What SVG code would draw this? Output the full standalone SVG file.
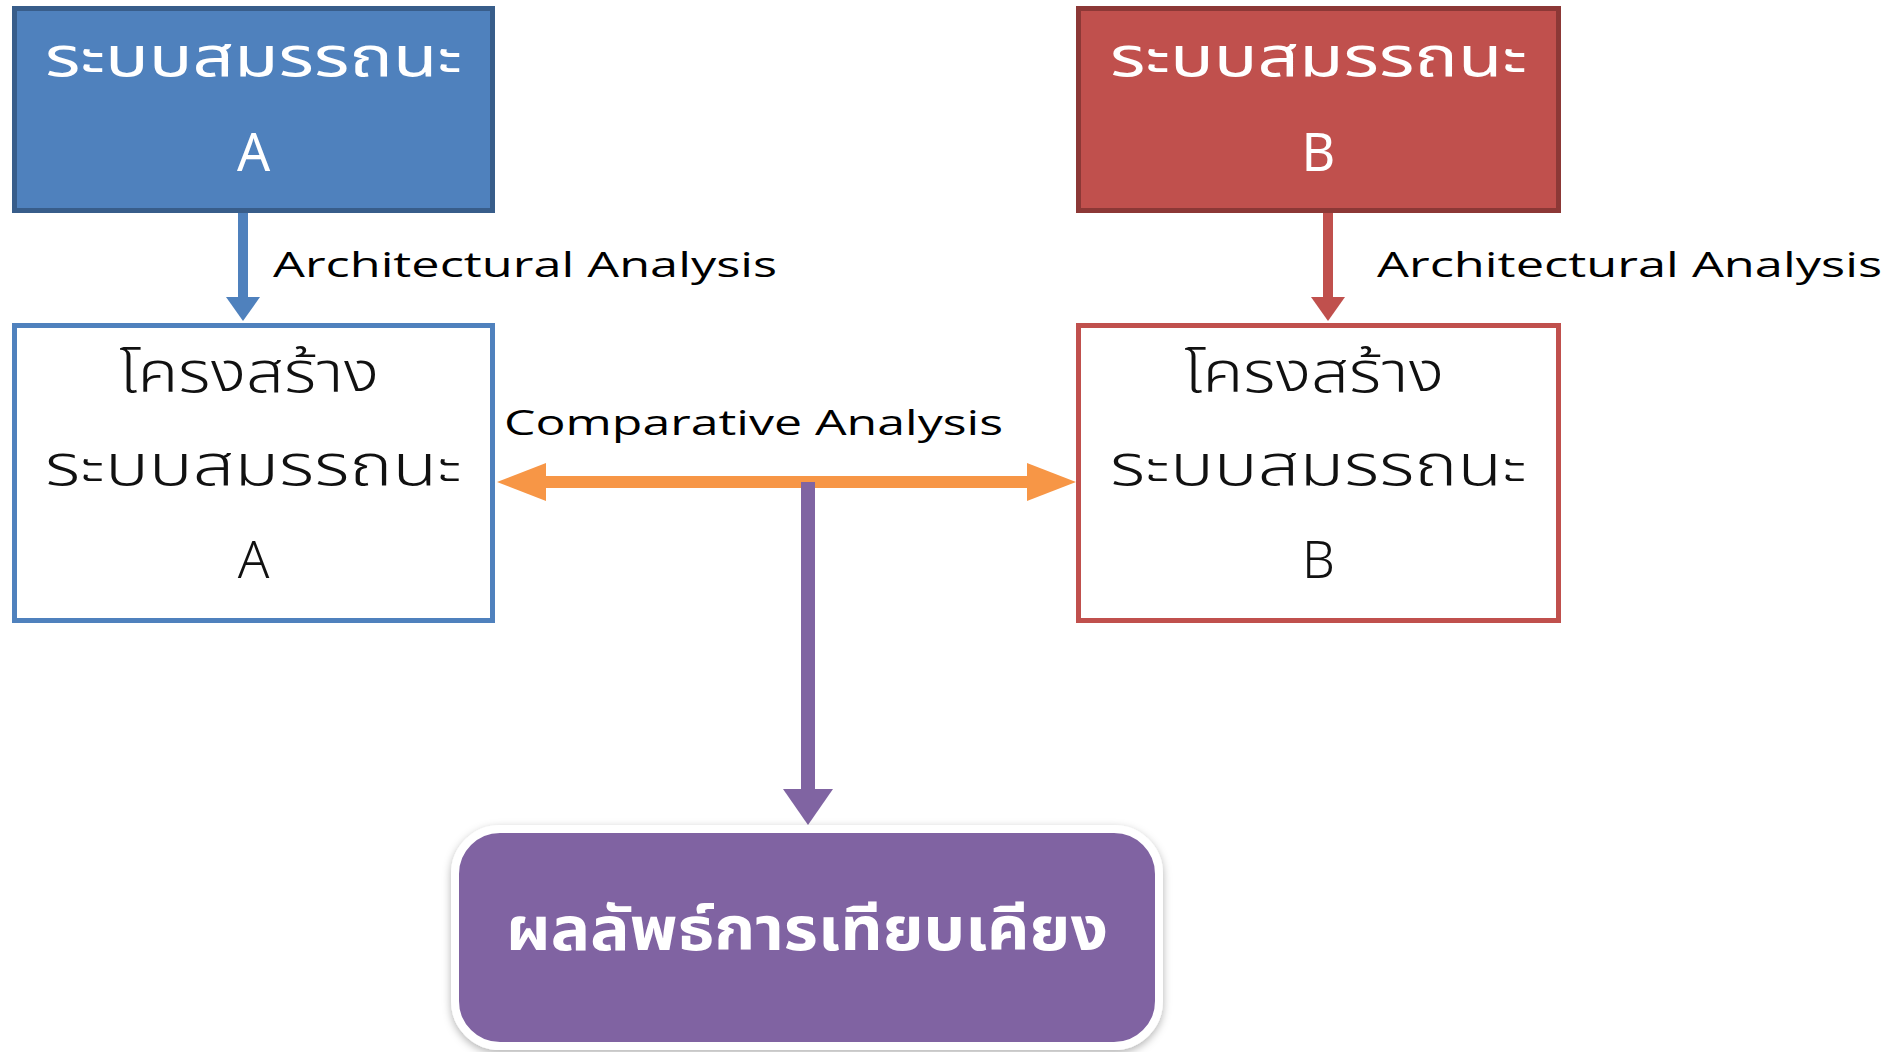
<svg xmlns="http://www.w3.org/2000/svg" width="1889" height="1052" viewBox="0 0 1889 1052">
<style>
.th{font-family:"Noto Sans Thai","Noto Sans","DejaVu Sans",sans-serif;text-anchor:middle}
.lat{font-family:"Open Sans","Noto Sans","Liberation Sans",sans-serif;font-size:35px;fill:#000}
.wt{fill:#fff}
.bk{fill:#111;font-weight:300}
</style>
<defs>
<filter id="sh" x="-10%" y="-10%" width="120%" height="130%">
<feDropShadow dx="0" dy="3" stdDeviation="4" flood-color="#000" flood-opacity="0.3"/>
</filter>
</defs>
<rect width="1889" height="1052" fill="#fff"/>
<g id="connectors">
<rect x="238" y="213" width="10" height="86" fill="#4f81bd"/>
<polygon points="226,297 260,297 243,321" fill="#4f81bd"/>
<rect x="1323" y="213" width="10" height="86" fill="#c0504d"/>
<polygon points="1311,297 1345,297 1328,321" fill="#c0504d"/>
<rect x="540" y="476" width="492" height="12" fill="#f79646"/>
<polygon points="497,482 546,463 546,501" fill="#f79646"/>
<polygon points="1076,482 1027,463 1027,501" fill="#f79646"/>
<rect x="801" y="482" width="14" height="310" fill="#8064a2"/>
<polygon points="783,789 833,789 808,825" fill="#8064a2"/>
<text class="lat" x="273" y="277" textLength="504" lengthAdjust="spacingAndGlyphs">Architectural Analysis</text>
<text class="lat" x="1377" y="277" textLength="505" lengthAdjust="spacingAndGlyphs">Architectural Analysis</text>
<text class="lat" x="504" y="435" textLength="499" lengthAdjust="spacingAndGlyphs">Comparative Analysis</text>
</g>
<g id="nodeA">
<rect x="14.5" y="8.5" width="478" height="202" fill="#4f81bd" stroke="#385d8a" stroke-width="5"/>
<text class="th wt" x="253.5" y="76" font-size="56" textLength="417" lengthAdjust="spacingAndGlyphs">ระบบสมรรถนะ</text>
<text class="th wt" x="253.5" y="171" font-size="52">A</text>
</g>
<g id="nodeB">
<rect x="1078.5" y="8.5" width="480" height="202" fill="#c0504d" stroke="#8c3836" stroke-width="5"/>
<text class="th wt" x="1318.5" y="76" font-size="56" textLength="417" lengthAdjust="spacingAndGlyphs">ระบบสมรรถนะ</text>
<text class="th wt" x="1318.5" y="171" font-size="52">B</text>
</g>
<g id="structA">
<rect x="14.5" y="325.5" width="478" height="295" fill="#fff" stroke="#4f81bd" stroke-width="5"/>
<text class="th bk" x="249" y="392" font-size="56" textLength="260" lengthAdjust="spacingAndGlyphs">โครงสร้าง</text>
<text class="th bk" x="253.5" y="485" font-size="56" textLength="417" lengthAdjust="spacingAndGlyphs">ระบบสมรรถนะ</text>
<text class="th bk" x="253.5" y="578" font-size="52">A</text>
</g>
<g id="structB">
<rect x="1078.5" y="325.5" width="480" height="295" fill="#fff" stroke="#c0504d" stroke-width="5"/>
<text class="th bk" x="1314" y="392" font-size="56" textLength="260" lengthAdjust="spacingAndGlyphs">โครงสร้าง</text>
<text class="th bk" x="1318.5" y="485" font-size="56" textLength="417" lengthAdjust="spacingAndGlyphs">ระบบสมรรถนะ</text>
<text class="th bk" x="1318.5" y="578" font-size="52">B</text>
</g>
<g id="result">
<rect x="455" y="829" width="704" height="217" rx="45" fill="#8064a2" stroke="#fff" stroke-width="8" filter="url(#sh)"/>
<text class="th wt" x="807" y="950" font-size="60" font-weight="bold" textLength="602" lengthAdjust="spacingAndGlyphs">ผลลัพธ์การเทียบเคียง</text>
</g>
</svg>
